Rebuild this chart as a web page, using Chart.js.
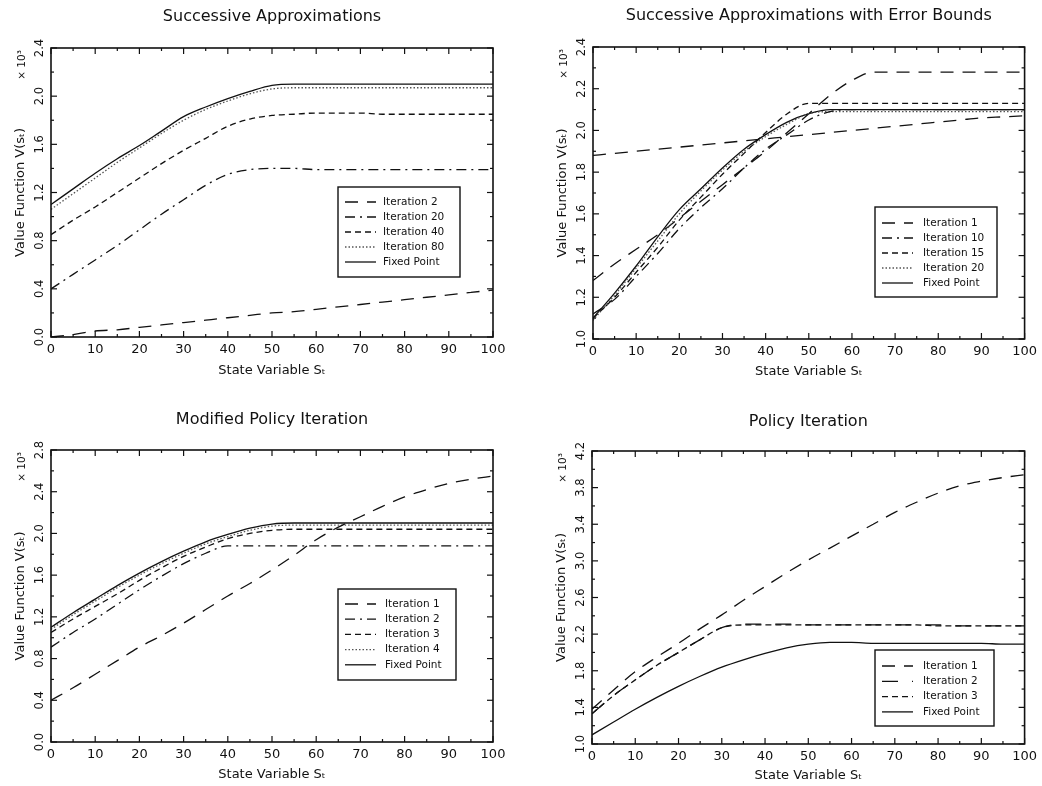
<!DOCTYPE html>
<html>
<head>
<meta charset="utf-8">
<script src="https://cdn.jsdelivr.net/npm/chart.js@4.4.1/dist/chart.umd.min.js"></script>
<style>
  html, body { margin: 0; padding: 0; background: #fff; }
  #page { position: relative; width: 1042px; height: 786px; }
  canvas { position: absolute; }
</style>
</head>
<body>
<div id="page">
  <canvas id="g1" width="521" height="393" style="left:0;top:0"></canvas>
  <canvas id="g2" width="521" height="393" style="left:521px;top:0"></canvas>
  <canvas id="g3" width="521" height="393" style="left:0;top:393px"></canvas>
  <canvas id="g4" width="521" height="393" style="left:521px;top:393px"></canvas>
</div>
<script>
// state variable grid (x axis)
const stateX = [0, 5, 10, 15, 20, 25, 30, 35, 40, 45, 50, 55, 60, 65, 70, 75, 80, 85, 90, 95, 100];

// Successive Approximations
const saIt2   = [0.00, 0.02, 0.05, 0.06, 0.08, 0.10, 0.12, 0.14, 0.16, 0.18, 0.20, 0.21, 0.23, 0.25, 0.27, 0.29, 0.31, 0.33, 0.35, 0.37, 0.39];
const saIt20  = [0.40, 0.52, 0.64, 0.76, 0.89, 1.02, 1.14, 1.26, 1.35, 1.39, 1.40, 1.40, 1.39, 1.39, 1.39, 1.39, 1.39, 1.39, 1.39, 1.39, 1.39];
const saIt40  = [0.85, 0.97, 1.08, 1.20, 1.32, 1.44, 1.55, 1.65, 1.75, 1.81, 1.84, 1.85, 1.86, 1.86, 1.86, 1.85, 1.85, 1.85, 1.85, 1.85, 1.85];
const saIt80  = [1.06, 1.19, 1.32, 1.45, 1.57, 1.69, 1.80, 1.89, 1.96, 2.02, 2.06, 2.07, 2.07, 2.07, 2.07, 2.07, 2.07, 2.07, 2.07, 2.07, 2.07];
const saFixed = [1.10, 1.23, 1.36, 1.48, 1.59, 1.71, 1.83, 1.91, 1.98, 2.04, 2.09, 2.10, 2.10, 2.10, 2.10, 2.10, 2.10, 2.10, 2.10, 2.10, 2.10];

// Successive Approximations with Error Bounds
const ebIt1   = [1.88, 1.89, 1.90, 1.91, 1.92, 1.93, 1.94, 1.95, 1.96, 1.97, 1.98, 1.99, 2.00, 2.01, 2.02, 2.03, 2.04, 2.05, 2.06, 2.065, 2.07];
const ebIt1b  = [1.28, 1.36, 1.43, 1.50, 1.58, 1.66, 1.74, 1.82, 1.90, 1.99, 2.08, 2.17, 2.24, 2.28, 2.28, 2.28, 2.28, 2.28, 2.28, 2.28, 2.28];
const ebIt10  = [1.12, 1.19, 1.30, 1.41, 1.53, 1.63, 1.72, 1.82, 1.91, 1.98, 2.05, 2.09, 2.10, 2.10, 2.10, 2.10, 2.10, 2.10, 2.10, 2.10, 2.10];
const ebIt15  = [1.10, 1.20, 1.32, 1.44, 1.57, 1.68, 1.79, 1.89, 1.99, 2.08, 2.13, 2.13, 2.13, 2.13, 2.13, 2.13, 2.13, 2.13, 2.13, 2.13, 2.13];
const ebIt20  = [1.09, 1.21, 1.34, 1.47, 1.60, 1.71, 1.81, 1.90, 1.97, 2.03, 2.08, 2.09, 2.09, 2.09, 2.09, 2.09, 2.09, 2.09, 2.09, 2.09, 2.09];
const ebFixed = [1.10, 1.22, 1.35, 1.49, 1.62, 1.72, 1.82, 1.91, 1.98, 2.04, 2.08, 2.10, 2.10, 2.10, 2.10, 2.10, 2.10, 2.10, 2.10, 2.10, 2.10];

// Modified Policy Iteration
const mpIt1   = [0.40, 0.52, 0.65, 0.78, 0.91, 1.02, 1.14, 1.27, 1.40, 1.52, 1.65, 1.79, 1.94, 2.06, 2.16, 2.26, 2.35, 2.42, 2.48, 2.52, 2.55];
const mpIt2   = [0.91, 1.05, 1.18, 1.32, 1.46, 1.59, 1.71, 1.81, 1.88, 1.88, 1.88, 1.88, 1.88, 1.88, 1.88, 1.88, 1.88, 1.88, 1.88, 1.88, 1.88];
const mpIt3   = [1.05, 1.18, 1.30, 1.42, 1.55, 1.67, 1.78, 1.87, 1.95, 2.00, 2.03, 2.04, 2.04, 2.04, 2.04, 2.04, 2.04, 2.04, 2.04, 2.04, 2.04];
const mpIt4   = [1.08, 1.22, 1.35, 1.48, 1.60, 1.71, 1.81, 1.90, 1.97, 2.03, 2.07, 2.08, 2.08, 2.08, 2.08, 2.08, 2.08, 2.08, 2.08, 2.08, 2.08];
const mpFixed = [1.10, 1.24, 1.37, 1.50, 1.62, 1.73, 1.83, 1.92, 1.99, 2.05, 2.09, 2.10, 2.10, 2.10, 2.10, 2.10, 2.10, 2.10, 2.10, 2.10, 2.10];

// Policy Iteration
const piIt1   = [1.38, 1.59, 1.79, 1.95, 2.10, 2.26, 2.41, 2.57, 2.72, 2.87, 3.01, 3.14, 3.27, 3.40, 3.53, 3.64, 3.74, 3.82, 3.87, 3.91, 3.94];
const piIt2   = [1.33, 1.53, 1.70, 1.86, 2.00, 2.14, 2.27, 2.31, 2.31, 2.31, 2.30, 2.30, 2.30, 2.30, 2.30, 2.30, 2.30, 2.29, 2.29, 2.29, 2.29];
const piIt3   = [1.33, 1.53, 1.70, 1.86, 2.00, 2.14, 2.27, 2.30, 2.30, 2.30, 2.30, 2.30, 2.30, 2.30, 2.30, 2.30, 2.29, 2.29, 2.29, 2.29, 2.29];
const piFixed = [1.10, 1.24, 1.38, 1.51, 1.63, 1.74, 1.84, 1.92, 1.99, 2.05, 2.09, 2.11, 2.11, 2.10, 2.10, 2.10, 2.10, 2.10, 2.10, 2.09, 2.09];

const LONG = [13, 9];
const DASHDOT = [10, 5, 2, 5];
const SHORT = [6, 4];
const DOT = [1.5, 2];
const SOLID = [];

Chart.defaults.font.family = "'DejaVu Sans', sans-serif";
Chart.defaults.color = "#111";

function serie(label, values, dash, color, inLegend) {
    return {
        label: label,
        data: values.map((v, i) => ({ x: stateX[i], y: v })),
        borderColor: color || "#111",
        borderWidth: 1.3,
        borderDash: dash,
        pointRadius: 0,
        fill: false,
        cubicInterpolationMode: "monotone",
        inLegend: inLegend !== false
    };
}

// frame, inward ticks, rotated y labels, x10^3 and the boxed legend
const marco = {
    id: "marco",
    afterDraw(chart, args, opts) {
        const ctx = chart.ctx;
        const a = chart.chartArea;
        const xs = chart.scales.x, ys = chart.scales.y;
        const line = (x1, y1, x2, y2) => { ctx.beginPath(); ctx.moveTo(x1, y1); ctx.lineTo(x2, y2); ctx.stroke(); };
        ctx.save();
        ctx.strokeStyle = "#111";
        ctx.fillStyle = "#111";
        ctx.setLineDash([]);
        ctx.lineWidth = 1.6;
        ctx.strokeRect(a.left, a.top, a.right - a.left, a.bottom - a.top);

        ctx.lineWidth = 1.2;
        let step = xs.options.ticks.stepSize / 2;
        let n = Math.round((xs.max - xs.min) / step);
        for (let k = 0; k <= n; k++) {
            const px = xs.getPixelForValue(xs.min + k * step);
            const len = k % 2 === 0 ? 6 : 3;
            line(px, a.bottom, px, a.bottom - len);
            line(px, a.top, px, a.top + len);
        }
        step = ys.options.ticks.stepSize / 2;
        n = Math.round((ys.max - ys.min) / step);
        for (let k = 0; k <= n; k++) {
            const py = ys.getPixelForValue(ys.min + k * step);
            const len = k % 2 === 0 ? 6 : 3;
            line(a.left, py, a.left + len, py);
            line(a.right, py, a.right - len, py);
        }

        ctx.font = "11.5px 'DejaVu Sans'";
        ctx.textAlign = "center";
        ctx.textBaseline = "middle";
        ys.ticks.forEach(t => {
            const py = ys.getPixelForValue(t.value);
            ctx.save();
            ctx.translate(a.left - 11, py);
            ctx.rotate(-Math.PI / 2);
            ctx.fillText(t.value.toFixed(1), 0, 0);
            ctx.restore();
        });

        ctx.save();
        ctx.translate(a.left - 29, a.top + 17);
        ctx.rotate(-Math.PI / 2);
        ctx.font = "10.5px 'DejaVu Sans'";
        ctx.fillText("× 10³", 0, 0);
        ctx.restore();

        // legend box
        ctx.lineWidth = 1.4;
        ctx.strokeRect(opts.x, opts.y, opts.w, opts.h);
        ctx.font = "10.5px 'DejaVu Sans'";
        ctx.textAlign = "left";
        let row = 0;
        chart.data.datasets.forEach(ds => {
            if (!ds.inLegend) return;
            const yy = opts.y + opts.first + row * opts.row;
            ctx.strokeStyle = ds.borderColor;
            ctx.lineWidth = ds.borderWidth;
            ctx.setLineDash(ds.borderDash);
            line(opts.x + 7, yy, opts.x + 38, yy);
            ctx.setLineDash([]);
            ctx.fillText(ds.label, opts.x + opts.text, yy);
            row++;
        });
        ctx.restore();
    }
};

function grafica(id, titulo, datasets, yRange, box, legend) {
    const [L, T, R, B, titleY, xTitleY] = box;
    new Chart(document.getElementById(id), {
        type: "line",
        data: { datasets: datasets },
        options: {
            responsive: false,
            animation: false,
            layout: { padding: { left: L - 40, right: 521 - R, top: 0, bottom: 0 } },
            plugins: {
                legend: { display: false },
                tooltip: { enabled: false },
                title: {
                    display: true,
                    text: titulo,
                    fullSize: false,
                    font: { size: 16, weight: "normal" },
                    color: "#111",
                    padding: { top: titleY - 9.6, bottom: T - titleY - 9.6 }
                },
                marco: legend
            },
            scales: {
                x: {
                    type: "linear",
                    min: 0,
                    max: 100,
                    ticks: { stepSize: 10, padding: 5, font: { size: 13 }, color: "#111" },
                    grid: { display: false, drawTicks: false },
                    border: { display: false },
                    title: {
                        display: true,
                        text: "State Variable Sₜ",
                        font: { size: 13 },
                        color: "#111",
                        padding: { top: 0, bottom: 393 - xTitleY - 7.8 }
                    },
                    afterFit: s => { s.height = 393 - B; }
                },
                y: {
                    type: "linear",
                    min: yRange[0],
                    max: yRange[1],
                    ticks: { stepSize: yRange[2], display: false },
                    grid: { display: false, drawTicks: false },
                    border: { display: false },
                    title: {
                        display: true,
                        text: "Value Function V(sₜ)",
                        font: { size: 13 },
                        color: "#111",
                        padding: { top: 2.2, bottom: 0 }
                    },
                    afterFit: s => { s.width = 40; }
                }
            }
        },
        plugins: [marco]
    });
}

grafica("g1", "Successive Approximations", [
    serie("Iteration 2", saIt2, LONG),
    serie("Iteration 20", saIt20, DASHDOT),
    serie("Iteration 40", saIt40, SHORT),
    serie("Iteration 80", saIt80, DOT, "#555"),
    serie("Fixed Point", saFixed, SOLID)
], [0, 2.4, 0.4], [51, 48, 493, 337, 17, 371],
   { x: 338, y: 187, w: 122, h: 90, first: 15, row: 15, text: 45 });

grafica("g2", "Successive Approximations with Error Bounds", [
    serie("Iteration 1", ebIt1, LONG),
    serie("Iteration 10", ebIt10, DASHDOT),
    serie("Iteration 15", ebIt15, SHORT),
    serie("Iteration 20", ebIt20, DOT, "#555"),
    serie("Fixed Point", ebFixed, SOLID),
    serie("Iteration 1", ebIt1b, LONG, "#111", false)
], [1.0, 2.4, 0.2], [72, 47, 508, 339, 16, 372],
   { x: 354, y: 207, w: 122, h: 90, first: 16, row: 15, text: 48 });

grafica("g3", "Modified Policy Iteration", [
    serie("Iteration 1", mpIt1, LONG),
    serie("Iteration 2", mpIt2, DASHDOT),
    serie("Iteration 3", mpIt3, SHORT),
    serie("Iteration 4", mpIt4, DOT, "#555"),
    serie("Fixed Point", mpFixed, SOLID)
], [0, 2.8, 0.4], [51, 57, 493, 349, 27, 382],
   { x: 338, y: 196, w: 118, h: 91, first: 15, row: 15.2, text: 47 });

grafica("g4", "Policy Iteration", [
    serie("Iteration 1", piIt1, LONG),
    serie("Iteration 2", piIt2, [16, 14]),
    serie("Iteration 3", piIt3, SHORT),
    serie("Fixed Point", piFixed, SOLID)
], [1.0, 4.2, 0.4], [71, 58, 509, 351, 29, 383],
   { x: 354, y: 257, w: 119, h: 76, first: 16, row: 15.3, text: 48 });
</script>
</body>
</html>
